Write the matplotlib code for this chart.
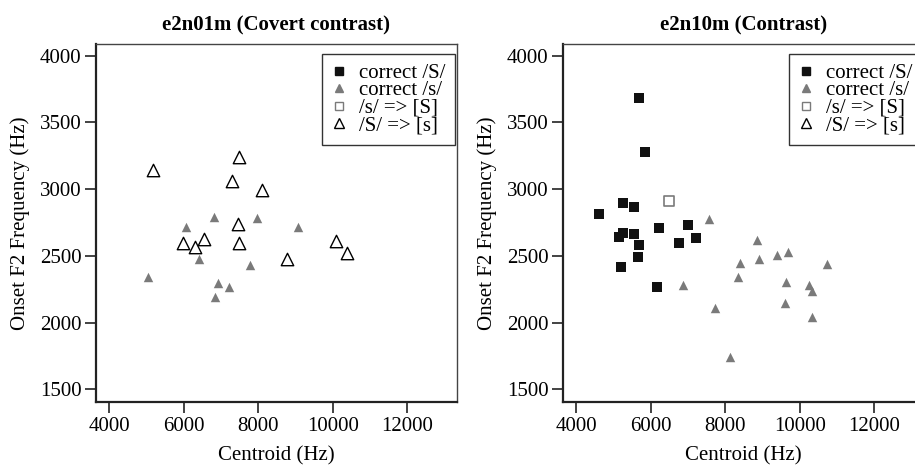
"""
Onset F2 frequency against centroid for two speakers (covert contrast vs contrast).
"""

import matplotlib
matplotlib.use('Agg')
import matplotlib.pyplot as plt
from matplotlib.lines import Line2D

plt.rcParams['font.family'] = ['Liberation Serif', 'DejaVu Serif']

# --- data ---
# e2n01m: correct /s/ (filled grey triangles)
left_s_x = [5050, 6055, 6820, 7955, 9065, 6400, 7770, 6920, 7225, 6850]
left_s_y = [2345, 2720, 2795, 2785, 2715, 2480, 2430, 2295, 2270, 2195]
# e2n01m: /S/ => [s] (open triangles)
left_S2s_x = [5160, 7470, 7300, 8090, 7460, 7490, 5970, 6290, 6550, 8770, 10095, 10390]
left_S2s_y = [3140, 3240, 3065, 2995, 2740, 2595, 2600, 2570, 2625, 2475, 2610, 2520]

# e2n10m: correct /S/ (filled black squares)
right_S_x = [5670, 5830, 4600, 5255, 5550, 5155, 5255, 5535, 5690, 5650, 5210,
             6210, 6155, 6755, 6990, 7215]
right_S_y = [3680, 3280, 2815, 2900, 2865, 2645, 2670, 2665, 2585, 2490, 2420,
             2710, 2270, 2595, 2730, 2635]
# e2n10m: correct /s/ (filled grey triangles)
right_s_x = [7555, 6855, 7735, 8140, 8400, 8345, 8865, 8910, 9380, 9695, 9630,
             9605, 10250, 10325, 10325, 10725]
right_s_y = [2775, 2285, 2110, 1745, 2445, 2345, 2620, 2475, 2505, 2530, 2305,
             2145, 2280, 2240, 2040, 2440]
# e2n10m: /s/ => [S] (open grey square)
right_s2S_x = [6475]
right_s2S_y = [2915]

titles = ['e2n01m (Covert contrast)', 'e2n10m (Contrast)']
legend_labels = ['correct /S/', 'correct /s/', '/s/ => [S]', '/S/ => [s]']
xticks = [4000, 6000, 8000, 10000, 12000]
yticks = [1500, 2000, 2500, 3000, 3500, 4000]

GREY = '#7a7a7a'
FS = 15


def style_axes(ax, title):
    """Box, ticks and labels in the R base-graphics look."""
    ax.set_xlim(3640, 13340)
    ax.set_ylim(1405, 4088)
    ax.set_xticks(xticks)
    ax.set_yticks(yticks)
    ax.tick_params(direction='out', length=8, width=1.2, labelsize=FS,
                   pad=2.5, color='#222222')
    ax.tick_params(axis='x', pad=3)
    for side in ('left', 'bottom'):
        ax.spines[side].set_linewidth(1.6)
        ax.spines[side].set_color('#222222')
    for side in ('top', 'right'):
        ax.spines[side].set_linewidth(1.0)
        ax.spines[side].set_color('#444444')
    ax.set_title(title, fontsize=FS, fontweight='bold', pad=10)
    ax.set_xlabel('Centroid (Hz)', fontsize=FS, labelpad=7)
    ax.set_ylabel('Onset F2 Frequency (Hz)', fontsize=FS, labelpad=7)

    handles = [
        Line2D([], [], linestyle='none', marker='s', markersize=5.5,
               color='#111111'),
        Line2D([], [], linestyle='none', marker='^', markersize=5.5,
               color=GREY),
        Line2D([], [], linestyle='none', marker='s', markersize=5.5,
               markerfacecolor='white', markeredgecolor=GREY, markeredgewidth=1),
        Line2D([], [], linestyle='none', marker='^', markersize=6.5,
               markerfacecolor='white', markeredgecolor='black', markeredgewidth=1),
    ]
    leg = ax.legend(handles, legend_labels, loc='upper right',
                    bbox_to_anchor=(1 - 2 / 361, 1 - 10 / 358), borderaxespad=0,
                    fontsize=FS, frameon=True, fancybox=False, handlelength=0.8,
                    handletextpad=0.55, labelspacing=-0.1, borderpad=0.45)
    leg.get_frame().set_edgecolor('black')
    leg.get_frame().set_linewidth(1.0)


fig = plt.figure(figsize=(9.15, 4.68), dpi=100)
ax1 = fig.add_axes([96 / 915, 66 / 468, 361 / 915, 358 / 468])
ax2 = fig.add_axes([563 / 915, 66 / 468, 361 / 915, 358 / 468])

# left panel
ax1.scatter(left_s_x, left_s_y, marker='^', s=46, color=GREY, linewidths=0)
ax1.scatter(left_S2s_x, left_S2s_y, marker='^', s=80, facecolors='white',
            edgecolors='black', linewidths=1)
style_axes(ax1, titles[0])

# right panel
ax2.scatter(right_S_x, right_S_y, marker='s', s=52, color='#111111', linewidths=0)
ax2.scatter(right_s_x, right_s_y, marker='^', s=46, color=GREY, linewidths=0)
ax2.scatter(right_s2S_x, right_s2S_y, marker='s', s=48, facecolors='white',
            edgecolors=GREY, linewidths=1.2)
style_axes(ax2, titles[1])

fig.savefig('out.png', dpi=100)
